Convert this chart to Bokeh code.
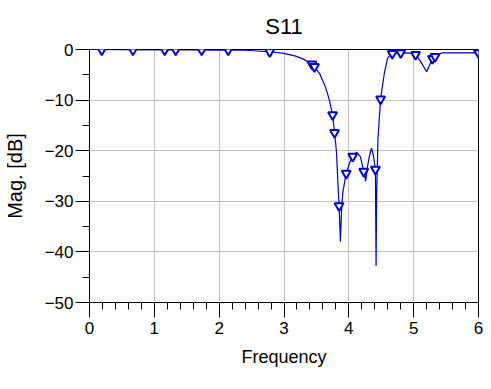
from bokeh.plotting import figure
from bokeh.models import Range1d, SingleIntervalTicker, ColumnDataSource
from bokeh.embed import file_html
from bokeh.resources import INLINE

# S11 magnitude curve (frequency, dB)
freq = [0.0, 0.5, 1.0, 1.5, 2.0, 2.4, 2.6, 2.78, 3.0, 3.18, 3.3, 3.43, 3.47,
        3.55, 3.64, 3.70, 3.75, 3.78, 3.81, 3.83, 3.85, 3.87, 3.89, 3.91,
        3.96, 4.01, 4.06, 4.12, 4.18, 4.23, 4.26, 4.29, 4.32, 4.35, 4.38,
        4.41, 4.42, 4.43, 4.45, 4.49, 4.55, 4.60, 4.67, 4.80, 4.95, 5.03,
        5.10, 5.20, 5.29, 5.33, 5.36, 5.45, 6.0]
mag = [0.0, -0.05, -0.08, -0.1, -0.12, -0.15, -0.3, -0.45, -0.75, -1.3, -1.9,
       -2.9, -3.4, -4.8, -7.4, -10.0, -12.9, -16.4, -20.3, -26.0, -30.9,
       -38.0, -31.0, -28.0, -24.5, -22.5, -21.1, -20.3, -21.2, -24.1, -26.0,
       -23.0, -20.9, -19.5, -21.0, -23.7, -42.8, -28.0, -17.4, -9.8, -4.5,
       -1.6, -0.8, -0.65, -0.7, -1.0, -2.2, -4.4, -1.8, -1.4, -1.0, -0.65,
       -0.65]

# marker positions
mk_freq = [0.19, 0.67, 1.16, 1.33, 1.73, 2.14, 2.78, 3.43, 3.47, 3.75, 3.78,
           3.85, 3.96, 4.06, 4.23, 4.41, 4.49, 4.67, 4.80, 5.03, 5.29, 5.33, 6.0]
mk_mag = [-0.1, -0.1, -0.1, -0.1, -0.1, -0.1, -0.45, -2.9, -3.4, -12.9, -16.4,
          -30.9, -24.5, -21.1, -24.1, -23.7, -9.8, -0.8, -0.65, -1.0, -1.8,
          -1.4, -0.65]

FONT = "Liberation Sans"
BLUE = "#0000CC"

p = figure(width=483, height=373, output_backend="svg", toolbar_location=None,
           x_range=Range1d(0, 6), y_range=Range1d(-50, 0),
           title="S11", x_axis_label="Frequency", y_axis_label="Mag. [dB]",
           min_border_left=82, min_border_right=5, min_border_top=42,
           min_border_bottom=71)

p.title.align = "center"
p.title.text_font = FONT
p.title.text_font_size = "22px"
p.title.text_font_style = "normal"
p.title.text_color = "black"
p.title.standoff = 22

p.outline_line_color = "black"
p.outline_line_width = 1
p.outline_line_alpha = 1
p.background_fill_color = "white"
p.border_fill_color = "white"

p.xaxis.ticker = SingleIntervalTicker(interval=1, num_minor_ticks=5)
p.yaxis.ticker = SingleIntervalTicker(interval=10, num_minor_ticks=2)

for ax in (p.xaxis[0], p.yaxis[0]):
    ax.axis_line_color = "black"
    ax.major_tick_line_color = "black"
    ax.minor_tick_line_color = "black"
    ax.major_tick_in = 0
    ax.minor_tick_in = 0
    ax.minor_tick_out = 7
    ax.major_label_text_font = FONT
    ax.major_label_text_font_size = "17px"
    ax.major_label_text_color = "black"
    ax.axis_label_text_font = FONT
    ax.axis_label_text_font_style = "normal"
    ax.axis_label_text_color = "black"

p.xaxis.major_tick_out = 15
p.yaxis.major_tick_out = 14
p.xaxis.major_label_standoff = 4
p.yaxis.major_label_standoff = 2
p.xaxis.axis_label_text_font_size = "18px"
p.yaxis.axis_label_text_font_size = "20px"
p.xaxis.axis_label_standoff = 10
p.yaxis.axis_label_standoff = 16

p.grid.grid_line_color = "#c0c0c0"
p.grid.grid_line_width = 1

src = ColumnDataSource(dict(f=freq, m=mag))
p.line("f", "m", source=src, line_color=BLUE, line_width=1.2)
msrc = ColumnDataSource(dict(f=mk_freq, m=mk_mag))
p.scatter("f", "m", source=msrc, marker="inverted_triangle", size=9,
          line_color=BLUE, fill_color="white", line_width=2)

open("out.html", "w").write(file_html(p, INLINE))
